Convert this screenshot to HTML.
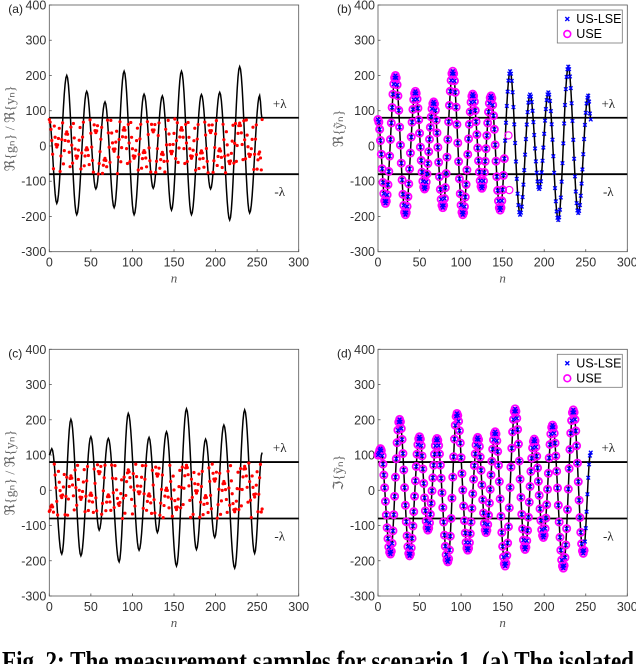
<!DOCTYPE html>
<html><head><meta charset="utf-8"><style>
html,body{margin:0;padding:0;background:#fff;overflow:hidden;width:636px;height:664px}
svg text{font-family:"Liberation Sans",sans-serif}
</style></head><body>
<svg id="fig" width="636" height="664" viewBox="0 0 636 664" xmlns="http://www.w3.org/2000/svg">
<text x="2" y="670" style="font-family:'Liberation Serif',serif;font-weight:bold;font-size:27px" fill="#000" textLength="632" lengthAdjust="spacingAndGlyphs">Fig. 2: The measurement samples for scenario 1. (a) The isolated</text>
</svg>
<script>
// ===== data =====
const lambda = 80;
const xTicks = [0, 50, 100, 150, 200, 250, 300];
const yTicks = [-300, -200, -100, 0, 100, 200, 300, 400];
// extrema of the real-part signal (panels a, b)
const realKnotN = [0, 9, 21, 33, 45, 56, 67, 78, 90, 102, 114, 125, 136, 147, 159, 171, 183, 194, 205, 217, 229, 241, 253, 256];
const realKnotV = [75, -163, 200, -195, 155, -122, 125, -175, 212, -195, 147, -120, 142, -182, 212, -195, 146, -122, 152, -210, 225, -190, 143, 75];
// extrema of the imaginary-part signal (panels c, d)
const imagKnotN = [0, 3, 15, 26, 38, 50, 60, 71, 84, 95, 108, 120, 130, 141, 153, 165, 177, 188, 199, 210, 223, 235, 247, 256];
const imagKnotV = [100, 118, -181, 201, -186, 152, -113, 147, -203, 218, -170, 150, -120, 166, -215, 231, -168, 145, -134, 185, -221, 228, -179, 107];
// USE reconstruction: last sample index recovered and outliers
const realUseEnd = 152;
const realUseOutN = [157, 158];
const realUseOutV = [30, -125];
const imagUseEnd = 248;
const legendLabels = ["US-LSE", "USE"];

function samples(kn, kv){
  const out=[];
  for(let n=0;n<=256;n++){
    let i=0; while(i<kn.length-2 && n>kn[i+1]) i++;
    const t=(n-kn[i])/(kn[i+1]-kn[i]);
    const w=(1-Math.cos(Math.PI*t))/2;
    out.push(kv[i]+(kv[i+1]-kv[i])*w);
  }
  return out;
}
const realSig = samples(realKnotN, realKnotV);
const imagSig = samples(imagKnotN, imagKnotV);
const fold = v => { const m=2*lambda; return ((((v+lambda)%m)+m)%m)-lambda; };

const NS="http://www.w3.org/2000/svg";
const svg=document.getElementById('fig');
function mk(tag, attrs, parent){
  const e=document.createElementNS(NS,tag);
  for(const k in attrs) e.setAttribute(k, attrs[k]);
  (parent||svg).appendChild(e); return e;
}

function panel(cfg){
  const g=mk('g',{});
  
  
  const X=v=>cfg.x0+(v-0)/300*(cfg.x1-cfg.x0);
  const Y=v=>cfg.y1-(v+300)/700*(cfg.y1-cfg.y0);
  const box=mk('rect',{x:cfg.x0,y:cfg.y0,width:cfg.x1-cfg.x0,height:cfg.y1-cfg.y0,fill:'#fff',stroke:'#555','stroke-width':0.8},g);
  
  
  xTicks.forEach(t=>{
    mk('line',{x1:X(t),x2:X(t),y1:cfg.y1,y2:cfg.y1-2.5,stroke:'#555','stroke-width':0.8},g);
    const tx=mk('text',{x:X(t),y:cfg.y1+15,'text-anchor':'middle','font-size':12.5,fill:'#333'},g);
    tx.textContent=t;
    
    
  });
  yTicks.forEach(t=>{
    mk('line',{x1:cfg.x0,x2:cfg.x0+2.5,y1:Y(t),y2:Y(t),stroke:'#555','stroke-width':0.8},g);
    const tx=mk('text',{x:cfg.x0-3,y:Y(t)+4.5,'text-anchor':'end','font-size':12.5,fill:'#333'},g);
    tx.textContent=t;
    
    
  });
  const sig=cfg.sig;
  let d=''; sig.forEach((v,n)=>{d+=(n?'L':'M')+X(n).toFixed(2)+' '+Y(v).toFixed(2);});
  const path=mk('path',{d:d,fill:'none',stroke:'#000','stroke-width':1.5},g);
  
  
  [lambda,-lambda].forEach(l=>{
    const ln=mk('line',{x1:cfg.x0,x2:cfg.x1,y1:Y(l),y2:Y(l),stroke:'#000','stroke-width':1.8},g);
    
    
  });
  if(cfg.type==='fold'){
    sig.forEach((v,n)=>{
      const c=mk('circle',{cx:X(n),cy:Y(fold(v)),r:1.6,fill:'#f00'},g);
      
      
    });
  } else {
    sig.forEach((v,n)=>{
      if(n<=cfg.useEnd){
        const c=mk('circle',{cx:X(n),cy:Y(v),r:3.6,fill:'none',stroke:'#f0f','stroke-width':1.8},g);
        
        
      }
    });
    (cfg.outN||[]).forEach((n,i)=>{
      const c=mk('circle',{cx:X(n),cy:Y(cfg.outV[i]),r:3.6,fill:'none',stroke:'#f0f','stroke-width':1.2},g);
      
      
    });
    sig.forEach((v,n)=>{
      const x=X(n), y=Y(v), s=1.8;
      const p=mk('path',{d:`M${x-s} ${y-s}L${x+s} ${y+s}M${x-s} ${y+s}L${x+s} ${y-s}`,stroke:'#00f','stroke-width':1.3},g);
      
      
    });
    const lg=mk('g',{},g);
    
    
    const lx=cfg.x1-70, ly=cfg.y0+5;
    mk('rect',{x:lx,y:ly,width:65,height:33,fill:'#fff',stroke:'#777','stroke-width':0.8},lg);
    const s=2;
    mk('path',{d:`M${lx+10-s} ${ly+9-s}L${lx+10+s} ${ly+9+s}M${lx+10-s} ${ly+9+s}L${lx+10+s} ${ly+9-s}`,stroke:'#00f','stroke-width':1.4},lg);
    mk('circle',{cx:lx+10,cy:ly+24,r:3.4,fill:'none',stroke:'#f0f','stroke-width':1.6},lg);
    legendLabels.forEach((t,i)=>{
      const tx=mk('text',{x:lx+19,y:ly+13+i*15,'font-size':12.5,fill:'#000'},lg);
      tx.textContent=t;
      
      
    });
  }
  const pl=mk('text',{x:cfg.x0-41,y:cfg.y0+8,'font-size':12,fill:'#222'},g);
  pl.textContent=cfg.label;
  
  
  const a=mk('text',{x:cfg.x1-19,y:Y(lambda)-10,'font-size':13,style:"font-family:'Liberation Serif',serif",fill:'#222','text-anchor':'middle'},g);
  a.textContent='+λ';
  
  
  const b=mk('text',{x:cfg.x1-19,y:Y(-lambda)+22,'font-size':13,style:"font-family:'Liberation Serif',serif",fill:'#222','text-anchor':'middle'},g);
  b.textContent='-λ';
  
  
  const xl=mk('text',{x:(cfg.x0+cfg.x1)/2,y:cfg.y1+31,'font-size':13,'font-style':'italic',style:"font-family:'Liberation Serif',serif",fill:'#555','text-anchor':'middle'},g);
  xl.textContent='n';
  
  
  const cy=(cfg.y0+cfg.y1)/2;
  const yl=mk('text',{x:cfg.x0-35,y:cy,'font-size':14,style:"font-family:'Liberation Serif',serif",fill:'#666','text-anchor':'middle',transform:`rotate(-90 ${cfg.x0-35} ${cy})`},g);
  yl.textContent=cfg.ytitle;
  
  
}

panel({name:'panel-a',label:'(a)',x0:49.3,x1:298.7,y0:5,y1:251.7,sig:realSig,type:'fold',ytitle:'ℜ{gₙ} / ℜ{yₙ}'});
panel({name:'panel-b',label:'(b)',x0:378,x1:627.3,y0:5,y1:251.7,sig:realSig,type:'rec',useEnd:realUseEnd,outN:realUseOutN,outV:realUseOutV,ytitle:'ℜ{ỹₙ}'});
panel({name:'panel-c',label:'(c)',x0:49.3,x1:298.7,y0:349.3,y1:596,sig:imagSig,type:'fold',ytitle:'ℜ{gₙ} / ℜ{yₙ}'});
panel({name:'panel-d',label:'(d)',x0:378,x1:627.3,y0:349.3,y1:596,sig:imagSig,type:'rec',useEnd:imagUseEnd,ytitle:'ℑ{ỹₙ}'});
</script>
</body></html>
